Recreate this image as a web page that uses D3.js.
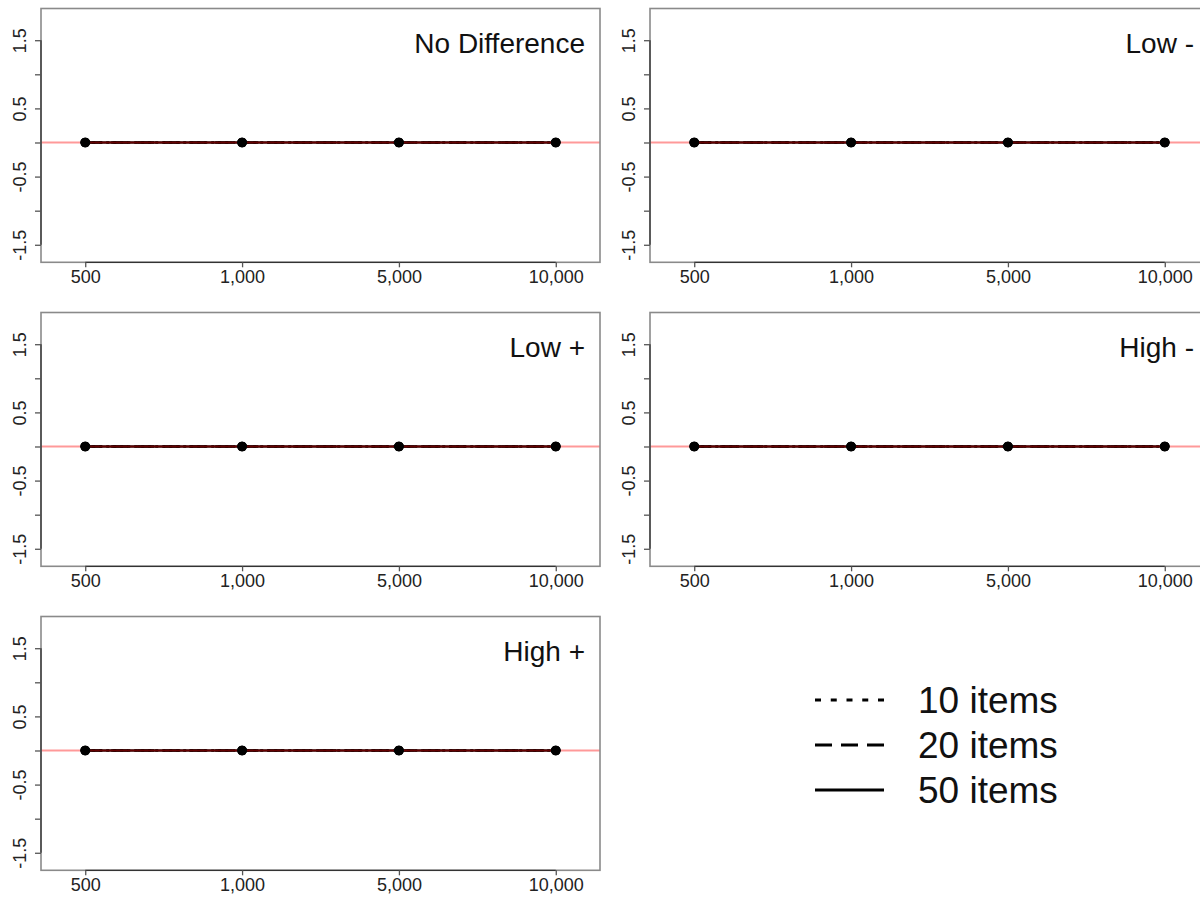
<!DOCTYPE html>
<html>
<head>
<meta charset="utf-8">
<script src="https://cdn.jsdelivr.net/npm/d3@7"></script>
<style>
  html, body { margin: 0; padding: 0; background: #fff; }
  svg { display: block; font-family: "Liberation Sans", Arial, sans-serif; }
</style>
</head>
<body>
<svg id="chart" width="1200" height="899"></svg>
<script>
// Sample sizes along the x axis (categorical positions 1..4)
const sampleSizes = ["500", "1,000", "5,000", "10,000"];
const panelTitles = ["No Difference", "Low -", "Low +", "High -", "High +"];
const itemCounts = ["10 items", "20 items", "50 items"];

// Mean bias per panel, one row per panel, for each test length
const bias10 = [
  [0, 0, 0, 0],
  [0, 0, 0, 0],
  [0, 0, 0, 0],
  [0, 0, 0, 0],
  [0, 0, 0, 0]
];
const bias20 = [
  [0, 0, 0, 0],
  [0, 0, 0, 0],
  [0, 0, 0, 0],
  [0, 0, 0, 0],
  [0, 0, 0, 0]
];
const bias50 = [
  [0, 0, 0, 0],
  [0, 0, 0, 0],
  [0, 0, 0, 0],
  [0, 0, 0, 0],
  [0, 0, 0, 0]
];
const yTicks = [-1.5, -1, -0.5, 0, 0.5, 1, 1.5];
const yLabels = ["-1.5", "", "-0.5", "", "0.5", "", "1.5"];

const svg = d3.select("#chart");

const panelW = 559, panelH = 253.8;
const colX = [41, 650];
const rowY = [8.5, 312.5, 616.5];
const dashes = ["6,9.75", "17,9", null];

const x = d3.scaleLinear().domain([0.718, 4.282]).range([0, panelW]);
const y = d3.scaleLinear().domain([-1.757, 1.965]).range([panelH, 0]);

const seriesSets = [bias10, bias20, bias50];

panelTitles.forEach((title, p) => {
  const g = svg.append("g")
    .attr("transform", `translate(${colX[p % 2]},${rowY[Math.floor(p / 2)]})`);

  // Series lines
  seriesSets.forEach((set, s) => {
    const pts = set[p].map((v, i) => [i + 1, v]);
    g.append("path")
      .attr("d", d3.line().x(d => x(d[0])).y(d => y(d[1]))(pts))
      .attr("fill", "none")
      .attr("stroke", "#000")
      .attr("stroke-width", 2.5)
      .attr("stroke-dasharray", s === 0 ? "3,4" : dashes[s]);
  });

  // Reference line at zero
  g.append("line")
    .attr("x1", 0).attr("x2", panelW)
    .attr("y1", y(0)).attr("y2", y(0))
    .attr("stroke", "rgba(255,0,0,0.4)")
    .attr("stroke-width", 2);

  // Points for each series
  seriesSets.forEach(set => {
    g.selectAll(null)
      .data(set[p])
      .join("circle")
      .attr("cx", (d, i) => x(i + 1))
      .attr("cy", d => y(d))
      .attr("r", 4.8)
      .attr("fill", "#000");
  });

  // Frame
  g.append("rect")
    .attr("x", 0).attr("y", 0)
    .attr("width", panelW).attr("height", panelH)
    .attr("fill", "none")
    .attr("stroke", "#8a8a8a")
    .attr("stroke-width", 1.6);

  // Y axis
  const ya = g.append("g")
    .call(d3.axisLeft(y).tickValues(yTicks).tickSize(6).tickSizeOuter(0)
      .tickFormat((d, i) => yLabels[i]));
  ya.select(".domain").attr("stroke", "#333").attr("stroke-width", 1.3)
    .attr("d", `M0,${y(-1.5)}V${y(1.5)}`);
  ya.selectAll(".tick line").attr("stroke", "#555").attr("stroke-width", 1.3);
  ya.selectAll(".tick text")
    .attr("font-size", 18)
    .attr("font-family", "Liberation Sans, Arial, sans-serif")
    .attr("fill", "#222")
    .attr("text-anchor", "middle")
    .attr("x", null).attr("dy", null)
    .attr("transform", "translate(-21,0) rotate(-90)")
    .attr("dominant-baseline", "central");

  // X axis
  const xa = g.append("g")
    .attr("transform", `translate(0,${panelH})`)
    .call(d3.axisBottom(x).tickValues([1, 2, 3, 4]).tickSize(5).tickSizeOuter(0)
      .tickFormat(d => sampleSizes[d - 1]));
  xa.select(".domain").attr("stroke", "#333").attr("stroke-width", 1.3)
    .attr("d", `M${x(1)},0H${x(4)}`);
  xa.selectAll(".tick line").attr("stroke", "#555").attr("stroke-width", 1.3);
  xa.selectAll(".tick text")
    .attr("font-size", 18)
    .attr("font-family", "Liberation Sans, Arial, sans-serif")
    .attr("fill", "#222")
    .attr("y", 8);

  // Panel title
  g.append("text")
    .attr("x", panelW - 15)
    .attr("y", 44.5)
    .attr("text-anchor", "end")
    .attr("font-size", 28)
    .attr("fill", "#111")
    .text(title);
});

// Legend
const legend = svg.append("g").attr("transform", "translate(815,700)");
itemCounts.forEach((label, i) => {
  legend.append("line")
    .attr("x1", 0).attr("x2", 69)
    .attr("y1", i * 45).attr("y2", i * 45)
    .attr("stroke", "#000")
    .attr("stroke-width", 3)
    .attr("stroke-dasharray", dashes[i]);
  legend.append("text")
    .attr("x", 103)
    .attr("y", i * 45)
    .attr("dy", "0.35em")
    .attr("font-size", 37)
    .attr("fill", "#111")
    .text(label);
});
</script>
</body>
</html>
